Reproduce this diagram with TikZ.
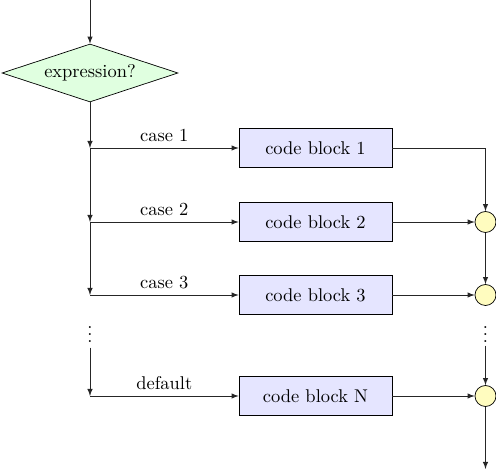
\documentclass[tikz,border=0pt]{standalone}
\usetikzlibrary{shapes.geometric}
\tikzstyle{decision}=[diamond, draw, fill=green!12, aspect=3, minimum width=3.52cm, minimum height=1.16cm, inner sep=0]
\tikzstyle{block}=[draw, fill=blue!10, minimum width=3.06cm, minimum height=0.78cm]
\tikzstyle{junction}=[circle, draw, fill=yellow!25, minimum size=0.42cm, inner sep=0]
\tikzstyle{flow}=[-latex, draw=black!85]

\begin{document}
\begin{tikzpicture}[font=\fontsize{10.5pt}{12.6pt}\selectfont]
      \useasboundingbox (0, 0) rectangle (9.92, -9.42);

      \coordinate (in) at (1.8, 0);
      \node[decision] (expr) at (1.8, -1.46) {expression?};

      \coordinate (case1) at (1.8, -2.96);
      \coordinate (case2) at (1.8, -4.44);
      \coordinate (case3) at (1.8, -5.9);
      \coordinate (caseN) at (1.8, -7.92);
      \node[inner sep=0] (dots_left) at (1.8, -6.58) {$\vdots$};

      \node[block] (block1) at (6.31, -2.96) {code block 1};
      \node[block] (block2) at (6.31, -4.44) {code block 2};
      \node[block] (block3) at (6.31, -5.9) {code block 3};
      \node[block] (blockN) at (6.31, -7.92) {code block N};

      \node[junction] (join2) at (9.71, -4.44) {};
      \node[junction] (join3) at (9.71, -5.9) {};
      \node[junction] (joinN) at (9.71, -7.92) {};
      \node[inner sep=0] (dots_right) at (9.71, -6.58) {$\vdots$};
      \coordinate (out) at (9.71, -9.38);

      \draw[flow] (in) to (expr.north);
      \draw[flow] (expr.south) to (case1);
      \draw[flow] (case1) to (case2);
      \draw[flow] (case2) to (case3);
      \draw[flow] (dots_left.south) ++(0, -0.1) to (caseN);

      \draw[flow] (case1) to node[above] {case 1} (block1);
      \draw[flow] (case2) to node[above] {case 2} (block2);
      \draw[flow] (case3) to node[above] {case 3} (block3);
      \draw[flow] (caseN) to node[above] {default} (blockN);

      \draw[flow] (block1.east) -| (join2.north);
      \draw[flow] (block2) to (join2);
      \draw[flow] (block3) to (join3);
      \draw[flow] (blockN) to (joinN);
      \draw[flow] (join2) to (join3);
      \draw[flow] (dots_right.south) ++(0, -0.06) to (joinN.north);
      \draw[flow] (joinN) to (out);
    \end{tikzpicture}
\end{document}
